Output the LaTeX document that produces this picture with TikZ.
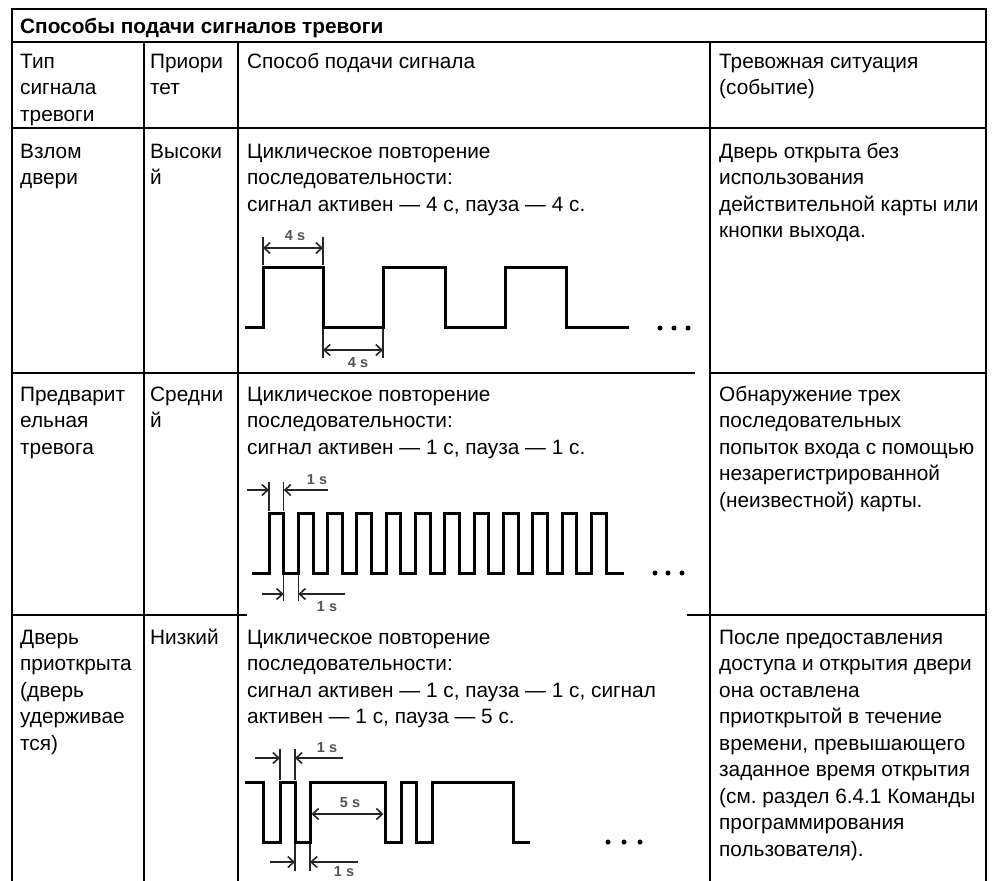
\documentclass[tikz,border=0pt]{standalone}
\usepackage{fontspec}
\setmainfont{Liberation Sans}
\usetikzlibrary{arrows.meta}
\frenchspacing
\newcommand\cellfont{\fontsize{20.8}{26.5}\selectfont}
\newcommand\dimfont{\fontsize{14.5}{14.5}\selectfont}
\definecolor{dimgray}{RGB}{85,85,85}
\tikzset{
  cell/.style={anchor=north west, inner sep=0pt, align=left, font=\cellfont},
  grid/.style={line width=2.3pt, black},
  hgrid/.style={line width=1.8pt, black},
  wave/.style={line width=3pt, black, line join=miter, line cap=rect},
  extline/.style={line width=1.4pt, black!85},
  dimarrow/.style={line width=1.6pt, black!85, -{Straight Barb[length=6pt,width=11pt,line width=1.6pt]}},
  dimboth/.style={line width=1.6pt, black!85, {Straight Barb[length=6pt,width=11pt,line width=1.6pt]}-{Straight Barb[length=6pt,width=11pt,line width=1.6pt]}},
  dimlabel/.style={inner sep=0pt, font=\dimfont\bfseries, text=dimgray},
  dotmark/.style={fill=black, draw=none, circle, inner sep=0pt, minimum size=5pt}
}
\def\asc{18.55}
\begin{document}
\begin{tikzpicture}[x=1pt,y=-1pt]
\useasboundingbox (0,0) rectangle (997,881);
% ---- grid ----
\draw[grid] (12,9) -- (986,9);
\draw[grid] (12,8) -- (12,881);
\draw[grid] (986,8) -- (986,881);
\draw[hgrid] (12,42) -- (986,42);
\draw[hgrid] (12,128) -- (986,128);
\draw[grid] (144,42) -- (144,881);
\draw[grid] (238,42) -- (238,881);
\draw[grid] (710,42) -- (710,881);
\draw[hgrid] (12,373) -- (695,373);
\draw[hgrid] (710,373) -- (986,373);
\draw[hgrid] (12,615) -- (247,615);
\draw[hgrid] (687,615) -- (986,615);
% ---- title and header ----
\node[cell] (title) at (20,{33-\asc}) {\strut\textbf{Способы подачи сигналов тревоги}};
\node[cell] (h1) at (20,{68-\asc}) {\strut Тип\\сигнала\\тревоги};
\node[cell] (h2) at (150,{68-\asc}) {\strut Приори\\тет};
\node[cell] (h3) at (247,{68-\asc}) {\strut Способ подачи сигнала};
\node[cell] (h4) at (719,{68-\asc}) {\strut Тревожная ситуация\\(событие)};
% ---- row 1 ----
\node[cell] (a1) at (20,{158-\asc}) {\strut Взлом\\двери};
\node[cell] (a2) at (150,{158-\asc}) {\strut Высоки\\й};
\node[cell] (a3) at (247,{158-\asc}) {\strut Циклическое повторение\\последовательности:\\сигнал активен — 4 с, пауза — 4 с.};
\node[cell] (a4) at (719,{158-\asc}) {\strut Дверь открыта без\\использования\\действительной карты или\\кнопки выхода.};
% ---- row 2 ----
\node[cell] (b1) at (20,{401-\asc}) {\strut Предварит\\ельная\\тревога};
\node[cell] (b2) at (150,{401-\asc}) {\strut Средни\\й};
\node[cell] (b3) at (247,{401-\asc}) {\strut Циклическое повторение\\последовательности:\\сигнал активен — 1 с, пауза — 1 с.};
\node[cell] (b4) at (719,{401-\asc}) {\strut Обнаружение трех\\последовательных\\попыток входа с помощью\\незарегистрированной\\(неизвестной) карты.};
% ---- row 3 ----
\node[cell] (c1) at (20,{644-\asc}) {\strut Дверь\\приоткрыта\\(дверь\\удерживае\\тся)};
\node[cell] (c2) at (150,{644-\asc}) {\strut Низкий};
\node[cell] (c3) at (247,{644-\asc}) {\strut Циклическое повторение\\последовательности:\\сигнал активен — 1 с, пауза — 1 с, сигнал\\активен — 1 с, пауза — 5 с.};
\node[cell] (c4) at (719,{644-\asc}) {\strut После предоставления\\доступа и открытия двери\\она оставлена\\приоткрытой в течение\\времени, превышающего\\заданное время открытия\\(см. раздел 6.4.1 Команды\\программирования\\пользователя).};
% ---- waveform 1 (4 s / 4 s) ----
\draw[wave] (246,327) -- (263,327) -- (263,267) -- (323,267) -- (323,327) -- (383,327) -- (383,267) -- (445,267) -- (445,327) -- (505,327) -- (505,267) -- (566,267) -- (566,327) -- (627,327);
\foreach \xx in {660,674,688} \node[dotmark] at (\xx,328) {};
\draw[extline] (263,265) -- (263,237);
\draw[extline] (323,265) -- (323,237);
\draw[dimboth] (263,248) -- (323,248);
\node[dimlabel] (w1a) at (295,236) {4 s};
\draw[extline] (323,329) -- (323,358);
\draw[extline] (383,329) -- (383,358);
\draw[dimboth] (323,350) -- (383,350);
\node[dimlabel] (w1b) at (358,363) {4 s};
% ---- waveform 2 (1 s / 1 s) ----
\draw[wave] (253,573) foreach \i in {0,...,11} { -- ({269+\i*29.3},573) -- ({269+\i*29.3},513) -- ({283.7+\i*29.3},513) -- ({283.7+\i*29.3},573) } -- (622,573);
\foreach \xx in {655,668,682} \node[dotmark] at (\xx,573) {};
\draw[extline] (269,511) -- (269,482);
\draw[extline] (283.7,511) -- (283.7,482);
\draw[dimarrow] (247,490) -- (269,490);
\draw[dimarrow] (328,490) -- (283.7,490);
\node[dimlabel] (w2a) at (317,480) {1 s};
\draw[extline] (283.7,575) -- (283.7,601);
\draw[extline] (298.3,575) -- (298.3,601);
\draw[dimarrow] (262,594) -- (283.7,594);
\draw[dimarrow] (345,594) -- (298.3,594);
\node[dimlabel] (w2b) at (327,607) {1 s};
% ---- waveform 3 (1/1/1/5) ----
\draw[wave] (246,782) -- (263,782) -- (263,842) -- (280,842) -- (280,782) -- (295,782) -- (295,842) -- (310,842) -- (310,782) -- (385,782) -- (385,842) -- (401,842) -- (401,782) -- (416,782) -- (416,842) -- (432,842) -- (432,782) -- (513,782) -- (513,842) -- (528,842);
\foreach \xx in {608,624,640} \node[dotmark] at (\xx,842) {};
\draw[extline] (280,780) -- (280,749);
\draw[extline] (295,780) -- (295,749);
\draw[dimarrow] (255,758) -- (280,758);
\draw[dimarrow] (343,758) -- (295,758);
\node[dimlabel] (w3a) at (327,748) {1 s};
\draw[dimboth] (311.5,814) -- (383.5,814);
\node[dimlabel] (w3c) at (350,803) {5 s};
\draw[extline] (295,844) -- (295,871);
\draw[extline] (310,844) -- (310,871);
\draw[dimarrow] (270,862) -- (295,862);
\draw[dimarrow] (358,862) -- (310,862);
\node[dimlabel] (w3b) at (344,872) {1 s};
\end{tikzpicture}
\end{document}
